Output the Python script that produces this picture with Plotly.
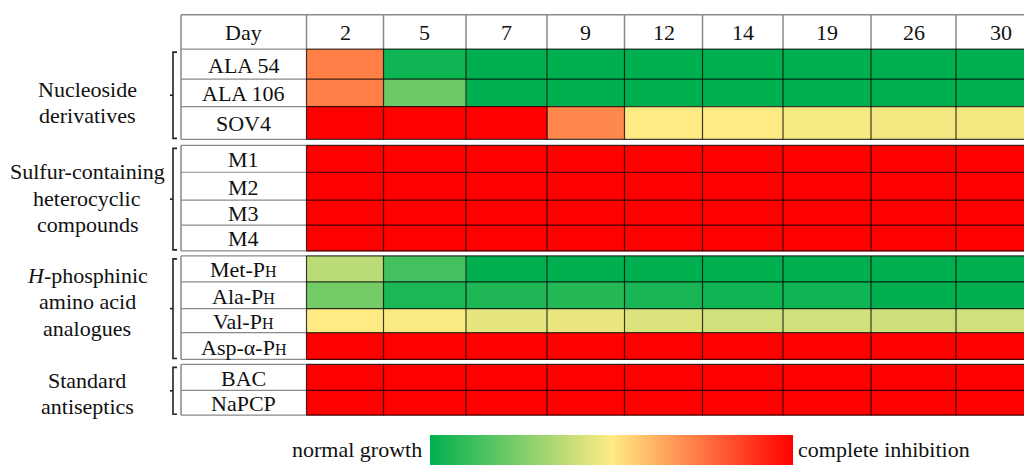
import plotly.graph_objects as go

# ---------------------------------------------------------------- data
days = [2, 5, 7, 9, 12, 14, 19, 26, 30]

# inhibition score: 0 = normal growth, 1 = complete inhibition
nucleoside_label = ["Nucleoside", "derivatives"]
nucleoside_rows = ["ALA 54", "ALA 106", "SOV4"]
nucleoside_values = [
    [0.73, 0.03, 0.00, 0.00, 0.00, 0.00, 0.00, 0.00, 0.00],
    [0.73, 0.21, 0.00, 0.00, 0.00, 0.00, 0.00, 0.00, 0.00],
    [1.00, 1.00, 1.00, 0.71, 0.50, 0.50, 0.48, 0.475, 0.475],
]

sulfur_label = ["Sulfur-containing", "heterocyclic", "compounds"]
sulfur_rows = ["M1", "M2", "M3", "M4"]
sulfur_values = [
    [1.0, 1.0, 1.0, 1.0, 1.0, 1.0, 1.0, 1.0, 1.0],
    [1.0, 1.0, 1.0, 1.0, 1.0, 1.0, 1.0, 1.0, 1.0],
    [1.0, 1.0, 1.0, 1.0, 1.0, 1.0, 1.0, 1.0, 1.0],
    [1.0, 1.0, 1.0, 1.0, 1.0, 1.0, 1.0, 1.0, 1.0],
]

SUB_H = "<span style='font-size:16px'>H</span>"
phosphinic_label = ["<i>H</i>-phosphinic", "amino acid", "analogues"]
phosphinic_rows = ["Met-P" + SUB_H, "Ala-P" + SUB_H, "Val-P" + SUB_H, "Asp-\u03b1-P" + SUB_H]
phosphinic_values = [
    [0.365, 0.135, 0.00, 0.00, 0.00, 0.00, 0.00, 0.00, 0.00],
    [0.23, 0.055, 0.06, 0.07, 0.05, 0.03, 0.03, 0.00, 0.00],
    [0.50, 0.49, 0.45, 0.46, 0.43, 0.41, 0.41, 0.40, 0.41],
    [1.00, 1.00, 1.00, 1.00, 1.00, 1.00, 1.00, 1.00, 1.00],
]

antiseptic_label = ["Standard", "antiseptics"]
antiseptic_rows = ["BAC", "NaPCP"]
antiseptic_values = [
    [1.0, 1.0, 1.0, 1.0, 1.0, 1.0, 1.0, 1.0, 1.0],
    [1.0, 1.0, 1.0, 1.0, 1.0, 1.0, 1.0, 1.0, 1.0],
]

legend_low = "normal growth"
legend_high = "complete inhibition"

# ---------------------------------------------------------------- layout geometry (pixel space)
W, H = 1024, 465
TABLE_LEFT = 181
COL_EDGES = [306.5, 383.5, 466, 547, 624.5, 702.5, 783, 871, 956, 1045]
HEADER_TOP, HEADER_BOTTOM = 14.7, 49.3
GROUP_ROW_EDGES = [
    [49.3, 79.5, 107, 140],
    [146, 173, 201, 226, 252],
    [257, 283, 310, 334, 361],
    [366, 392, 417],
]
GROUP_TEXT_Y = [103, 199, 303, 395]
GROUP_TEXT_X = 87
GROUP_LINE_STEP = 26.5
BRACKET_X = 173

FONT = "Liberation Serif"
FONT_SIZE = 22
TEXT_COLOR = "#111111"
GRID_DARK = "rgba(0,0,0,0.75)"
GRID_GREY = "#8a8a8a"
COLORSCALE = [[0.0, "#00B050"], [0.5, "#FFEB84"], [1.0, "#FF0000"]]

groups = [
    (nucleoside_label, nucleoside_rows, nucleoside_values),
    (sulfur_label, sulfur_rows, sulfur_values),
    (phosphinic_label, phosphinic_rows, phosphinic_values),
    (antiseptic_label, antiseptic_rows, antiseptic_values),
]

fig = go.Figure()
shapes = []
annotations = []


def hline(y, x0, x1, color, width=1):
    shapes.append(dict(type="line", xref="x", yref="y", x0=x0, x1=x1, y0=y, y1=y,
                       line=dict(color=color, width=width)))


def vline(x, y0, y1, color, width=1):
    shapes.append(dict(type="line", xref="x", yref="y", x0=x, x1=x, y0=y0, y1=y1,
                       line=dict(color=color, width=width)))


def text(x, y, s, anchor="center", size=FONT_SIZE):
    annotations.append(dict(x=x, y=y, xref="x", yref="y", text=s, showarrow=False,
                            xanchor=anchor, yanchor="middle", align="center",
                            font=dict(family=FONT, size=size, color=TEXT_COLOR)))


label_center = (TABLE_LEFT + COL_EDGES[0]) / 2
col_centers = [(a + b) / 2 for a, b in zip(COL_EDGES[:-1], COL_EDGES[1:])]

# header row
text(label_center, (HEADER_TOP + HEADER_BOTTOM) / 2 + 1, "Day")
for cx, d in zip(col_centers, days):
    text(cx, (HEADER_TOP + HEADER_BOTTOM) / 2 + 1, str(d))
hline(HEADER_TOP, TABLE_LEFT, COL_EDGES[-1], GRID_GREY, 1.5)
for x in [TABLE_LEFT] + COL_EDGES:
    vline(x, HEADER_TOP, HEADER_BOTTOM, GRID_GREY, 1.5)

# one heatmap block per compound group
for (glines, rows, values), edges, ty in zip(groups, GROUP_ROW_EDGES, GROUP_TEXT_Y):
    fig.add_trace(go.Heatmap(
        x=COL_EDGES, y=edges, z=values, coloraxis="coloraxis",
        hoverinfo="skip",
    ))
    top, bottom = edges[0], edges[-1]
    for i, name in enumerate(rows):
        text(label_center, (edges[i] + edges[i + 1]) / 2 + 1, name)
    for y in edges:
        hline(y, TABLE_LEFT, COL_EDGES[0], GRID_GREY, 1.2)
        hline(y, COL_EDGES[0], COL_EDGES[-1], GRID_DARK, 1.2)
    vline(TABLE_LEFT, top, bottom, GRID_GREY, 1.5)
    for x in COL_EDGES:
        vline(x, top, bottom, GRID_DARK, 1.2)

    # group bracket
    b0, b1 = top + 3, bottom - 1
    mid = (b0 + b1) / 2
    shapes.append(dict(
        type="path", xref="x", yref="y",
        path=f"M {BRACKET_X + 4},{b0} L {BRACKET_X},{b0} L {BRACKET_X},{b1} L {BRACKET_X + 4},{b1}",
        line=dict(color="#222222", width=1.6),
    ))
    hline(mid, BRACKET_X - 3, BRACKET_X, "#222222", 1.6)

    # group name, one line at a time
    first = ty - GROUP_LINE_STEP * (len(glines) - 1) / 2
    for k, line in enumerate(glines):
        text(GROUP_TEXT_X, first + k * GROUP_LINE_STEP, line)

# colour bar labels
BAR_LEFT, BAR_RIGHT, BAR_TOP = 430, 793, 436.7
text(BAR_LEFT - 6, 451, legend_low, anchor="right")
text(BAR_RIGHT + 3, 451, legend_high, anchor="left")

fig.update_layout(
    width=W, height=H,
    margin=dict(l=0, r=0, t=0, b=0),
    paper_bgcolor="white", plot_bgcolor="white",
    xaxis=dict(range=[0, W], visible=False, fixedrange=True),
    yaxis=dict(range=[H, 0], visible=False, fixedrange=True),
    coloraxis=dict(
        colorscale=COLORSCALE, cmin=0, cmax=1,
        colorbar=dict(
            orientation="h",
            x=BAR_LEFT / W, xanchor="left",
            y=1 - BAR_TOP / H, yanchor="top",
            len=BAR_RIGHT - BAR_LEFT, lenmode="pixels",
            thickness=30, thicknessmode="pixels",
            xpad=0, ypad=0, outlinewidth=0,
            showticklabels=False, ticks="",
        ),
    ),
    shapes=shapes,
    annotations=annotations,
    showlegend=False,
)

fig.write_html("out.html")
